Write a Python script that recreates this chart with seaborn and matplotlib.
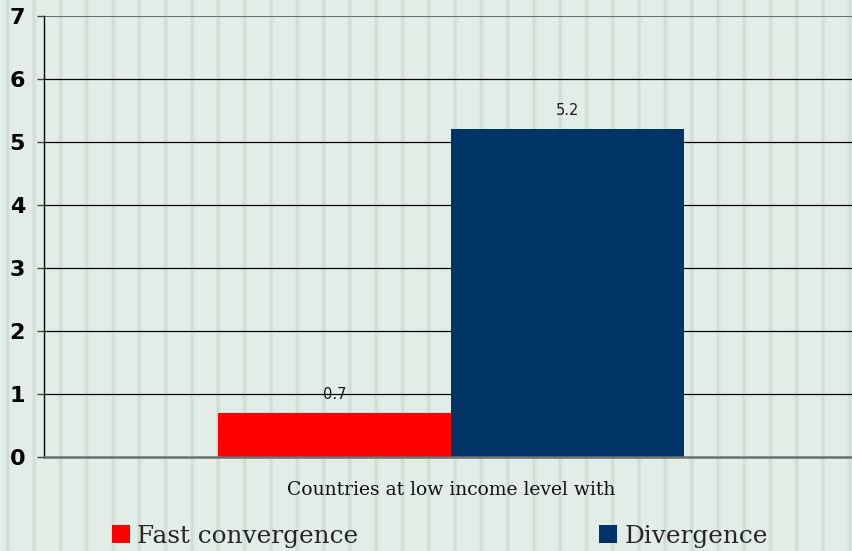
import matplotlib
matplotlib.use("Agg")
import matplotlib.pyplot as plt
import seaborn as sns
import pandas as pd
from matplotlib.patches import Patch

categories = ["Countries at low income level with"]
series = ["Fast convergence", "Divergence"]
values = [0.7, 5.2]
colors = ["#FF0000", "#003366"]
yticks = [0, 1, 2, 3, 4, 5, 6, 7]

df = pd.DataFrame({
    "group": [categories[0]] * len(series),
    "series": series,
    "value": values,
})

sns.set_theme(style="white")
plt.rcParams["font.family"] = ["DejaVu Sans"]
plt.rcParams["ytick.left"] = True
plt.rcParams["ytick.major.size"] = 5
plt.rcParams["ytick.major.width"] = 1.0
plt.rcParams["ytick.color"] = "black"
plt.rcParams["ytick.direction"] = "out"

W, H = 853, 551
fig = plt.figure(figsize=(W / 100, H / 100), dpi=100)
bgcol = "#E3EDE7"
stripe_outer = "#D9E6DE"
stripe_inner = "#D0DFD6"
fig.patch.set_facecolor(bgcol)

# background stripe texture
bg = fig.add_axes([0, 0, 1, 1], zorder=-10)
bg.set_xlim(0, W)
bg.set_ylim(0, H)
bg.axis("off")
x = 8.0
while x < W + 5:
    bg.axvspan(x - 2.5, x + 2.5, color=stripe_outer, lw=0)
    bg.axvspan(x - 1.0, x + 1.0, color=stripe_inner, lw=0)
    x += 26.3

ax = fig.add_axes([44 / W, (H - 457) / H, (W - 44) / W, (457 - 16) / H])
ax.patch.set_alpha(0)
sns.barplot(data=df, x="group", y="value", hue="series", hue_order=series,
            palette=colors, saturation=1, width=0.8, ax=ax, legend=False,
            edgecolor="none")

for c in ax.containers:
    ax.bar_label(c, fmt="%.1f", padding=8, fontsize=10.5, color="#1a1a1a")

ax.set_ylim(0, 7)
ax.set_xlim(-0.699, 0.691)
ax.set_yticks(yticks)
ax.set_yticklabels([str(t) for t in yticks], fontsize=16, fontweight="bold", color="black")
ax.yaxis.set_ticks_position("left")
ax.tick_params(axis="y", which="major", left=True, length=5, width=1.0,
               color="#444444", pad=8.6, direction="out")
ax.tick_params(axis="x", length=0, pad=17, labelsize=13.5)
for lab in ax.get_xticklabels():
    lab.set_fontfamily("DejaVu Serif")
    lab.set_color("#111111")
ax.set_xlabel("")
ax.set_ylabel("")

for yv in yticks[1:-1]:
    ax.axhline(yv, color="black", lw=0.9, zorder=0.5)
ax.axhline(7, color="#6e6e6e", lw=1.5, zorder=0.5)

for s in ["top", "right"]:
    ax.spines[s].set_visible(False)
ax.spines["left"].set_color("black")
ax.spines["left"].set_linewidth(1.0)
ax.spines["bottom"].set_color("#6e6e6e")
ax.spines["bottom"].set_linewidth(1.8)

handles = [Patch(facecolor=c, edgecolor="none", label=s) for c, s in zip(colors, series)]
leg = fig.legend(handles=handles, loc="center left", bbox_to_anchor=(102 / W, (H - 536) / H),
                 ncol=2, frameon=False, handlelength=0.72, handleheight=0.72,
                 handletextpad=0.3, columnspacing=9.75, borderaxespad=0,
                 prop={"family": "DejaVu Serif", "size": 17.8})

fig.savefig("out.png", dpi=100, facecolor=bgcol)
